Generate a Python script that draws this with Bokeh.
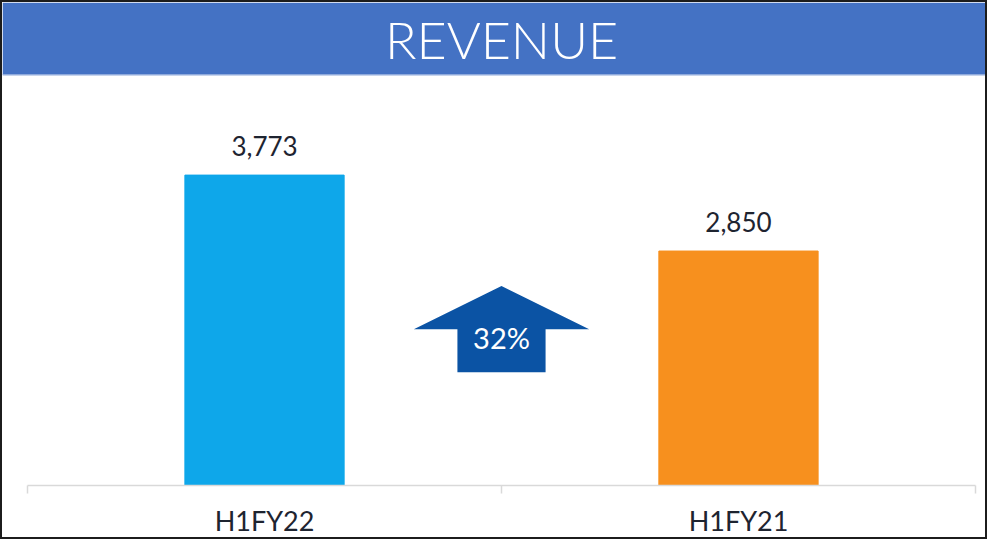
from bokeh.plotting import figure
from bokeh.models import (Range1d, LinearAxis, FixedTicker, ColumnDataSource,
                          BoxAnnotation, Label, Span)
from bokeh.core.properties import value
from bokeh.embed import file_html
from bokeh.resources import INLINE

# ---- data ----
title_text = "REVENUE"
periods = ["H1FY22", "H1FY21"]
revenue = [3773, 2850]
bar_colors = ["#0EA7EA", "#F7901E"]

growth_pct = round((revenue[0] - revenue[1]) / revenue[1] * 100)
growth_label = f"{growth_pct}%"

# ---- layout constants (not data) ----
W, H = 987, 539
Y_END = 5871          # top of frame (data units)
BAND_BOTTOM = 4994    # bottom of title band (data units)
TITLE_Y = 5425
ARROW_TIP, ARROW_WING, ARROW_BASE = 2424, 1900, 1376
ARROW_TEXT_Y = 1803
HEAD_HALF, STEM_HALF = 0.185, 0.093
BAR_W = 0.336
TEXT_COLOR = "#1E2430"
FONT = "Lato"

n = len(periods)
centers = [i + 0.5 for i in range(n)]

p = figure(width=W, height=H, output_backend="svg", toolbar_location=None,
           x_range=Range1d(-0.0528, n + 0.0296), y_range=Range1d(0, Y_END),
           x_axis_location=None, y_axis_location=None,
           min_border_left=0, min_border_right=0, min_border_top=0,
           min_border_bottom=56)
p.outline_line_color = None
p.xgrid.visible = False
p.ygrid.visible = False
p.background_fill_color = "white"
p.border_fill_color = "white"
p.styles = {"border": "2px solid #1c1c1c"}

# title band
band = BoxAnnotation(bottom=BAND_BOTTOM, fill_color="#4472C4", fill_alpha=1.0,
                     line_color=None)
p.add_layout(band)
p.add_layout(Span(location=BAND_BOTTOM, dimension="width", line_color="#8FAADC",
                  line_width=1.5))
p.add_layout(Label(x=n / 2, y=TITLE_Y, text=title_text, text_align="center",
                   text_baseline="middle", text_color="white",
                   text_font="Lato Light",
                   text_font_size="52px"))

# bars
src = ColumnDataSource(dict(x=centers, top=revenue, color=bar_colors,
                            label=[f"{v:,}" for v in revenue]))
p.vbar(x="x", top="top", bottom=0, width=BAR_W, color="color", source=src)
p.text(x="x", y="top", text="label", source=src, text_align="center",
       text_baseline="alphabetic", y_offset=-29, text_color=TEXT_COLOR,
       text_font=value(FONT), text_font_size="26px")

# growth arrow
cx = n / 2
xs = [cx, cx + HEAD_HALF, cx + STEM_HALF, cx + STEM_HALF,
      cx - STEM_HALF, cx - STEM_HALF, cx - HEAD_HALF]
ys = [ARROW_TIP, ARROW_WING, ARROW_WING, ARROW_BASE,
      ARROW_BASE, ARROW_WING, ARROW_WING]
p.patch(xs, ys, fill_color="#0B53A4", line_color=None)
p.text(x=[cx], y=[ARROW_TEXT_Y], text=[growth_label], text_align="center",
       text_baseline="middle", text_color="white",
       text_font=value(FONT), text_font_size="29px")

# category axis with boundary ticks
ax = LinearAxis(ticker=FixedTicker(ticks=centers, minor_ticks=list(range(n + 1))),
                bounds=(0, n))
ax.major_label_overrides = {c: lab for c, lab in zip(centers, periods)}
ax.axis_line_color = "#D9D9D9"
ax.axis_line_width = 1.5
ax.major_tick_line_color = None
ax.major_tick_out = 0
ax.major_tick_in = 0
ax.minor_tick_line_color = "#D9D9D9"
ax.minor_tick_line_width = 1.5
ax.minor_tick_out = 8
ax.minor_tick_in = 0
ax.major_label_standoff = 10
ax.major_label_text_font = FONT
ax.major_label_text_font_size = "27px"
ax.major_label_text_color = TEXT_COLOR
p.add_layout(ax, "below")

open("out.html", "w").write(file_html(p, INLINE))
